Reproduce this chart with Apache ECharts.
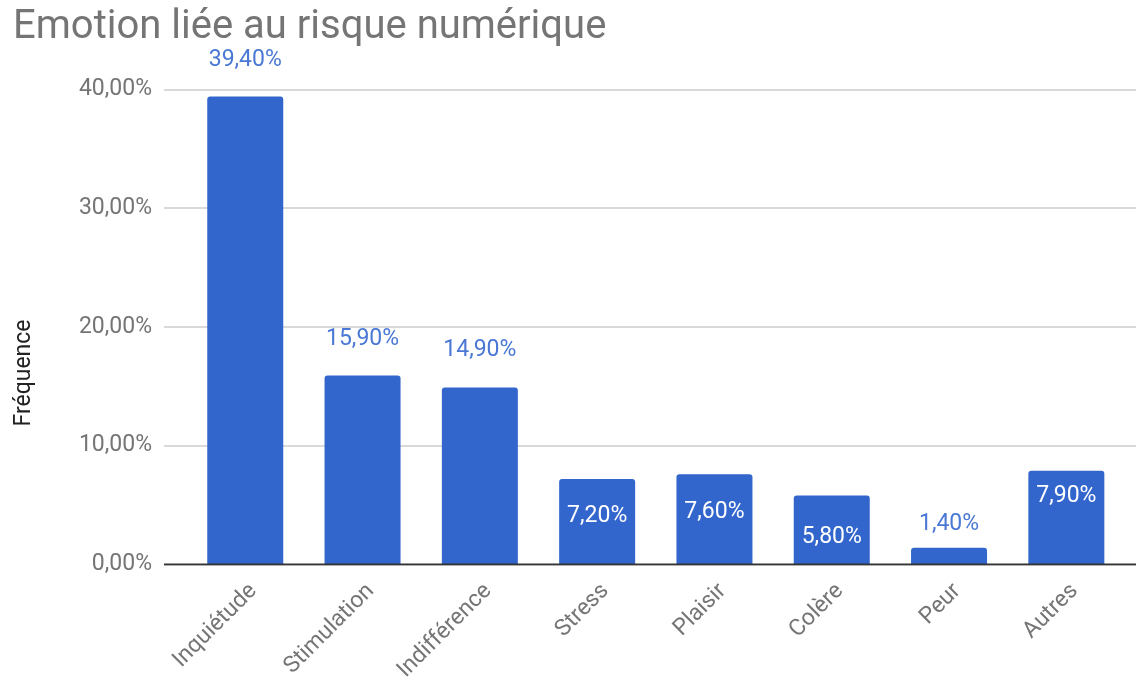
<!DOCTYPE html>
<html><head><meta charset="utf-8">
<script src="https://cdn.jsdelivr.net/npm/echarts@6/dist/echarts.min.js"></script>
<style>html,body{margin:0;padding:0;background:#fff}#c{width:1136px;height:681px}</style>
</head><body><div id="c"></div>
<script>
const categories = ['Inquiétude','Stimulation','Indifférence','Stress','Plaisir','Colère','Peur','Autres'];
const frequence = [39.4, 15.9, 14.9, 7.2, 7.6, 5.8, 1.4, 7.9];
const yTicks = [0, 10, 20, 30, 40];

// label placement style per bar (Google-chart style annotations)
const labelInside = [false, false, false, true, true, true, false, true];
const labelDist = [24.5, 24.5, 25, 25.6, 25.7, 29.4, 11.4, 13.3];

const fmt = v => v.toFixed(2).replace('.', ',') + '%';
const FONT = 'Roboto';

const chart = echarts.init(document.getElementById('c'));
const gTop = 89.3, gBottom = 116.5;
chart.setOption({
  animation: false,
  title: { text: 'Emotion liée au risque numérique', left: 8, top: 3,
    textStyle: { fontFamily: FONT, fontSize: 40, fontWeight: 'normal', color: '#757575' } },
  grid: [
    { left: 164, right: 0, top: gTop, bottom: gBottom, outerBoundsMode: 'none', containLabel: false },
    { left: 186.6, right: 11, top: gTop, bottom: gBottom, outerBoundsMode: 'none', containLabel: false }
  ],
  xAxis: [
    { gridIndex: 0, type: 'value', min: 0, max: 1, show: true,
      axisLine: { show: false }, axisTick: { show: false }, axisLabel: { show: false }, splitLine: { show: false } },
    { gridIndex: 1, type: 'category', data: categories,
      axisLine: { show: false }, axisTick: { show: false },
      axisLabel: { interval: 0, rotate: 45, margin: 15, verticalAlign: 'top',
        fontFamily: FONT, fontSize: 23, color: '#757575' } }
  ],
  yAxis: [
    { gridIndex: 0, type: 'value', min: yTicks[0], max: yTicks[yTicks.length-1], interval: 10,
      axisLine: { show: false }, axisTick: { show: false },
      axisLabel: { margin: 12, fontFamily: FONT, fontSize: 23, color: '#757575', formatter: fmt },
      splitLine: { lineStyle: { color: '#cccccc', width: 1.5 } } },
    { gridIndex: 1, type: 'value', min: yTicks[0], max: yTicks[yTicks.length-1], interval: 10, show: false }
  ],
  graphic: [
    { type: 'text', x: 24, y: 373, rotation: Math.PI/2,
      style: { text: 'Fréquence', fontFamily: FONT, fontSize: 23, fill: '#222', align: 'center', verticalAlign: 'middle' } }
  ],
  series: [
    { type: 'line', xAxisIndex: 0, yAxisIndex: 0, data: [[0,0],[1,0]], symbol: 'none', silent: true,
      lineStyle: { color: '#333', width: 2 }, z: 5 },
    { type: 'bar', xAxisIndex: 1, yAxisIndex: 1, barWidth: 76,
      itemStyle: { color: '#3366cc', borderRadius: [3,3,0,0] },
      data: frequence.map((v, i) => ({
        value: v,
        label: {
          show: true,
          position: labelInside[i] ? 'insideTop' : 'top',
          distance: labelDist[i],
          lineHeight: 24,
          fontFamily: FONT, fontSize: 23,
          color: labelInside[i] ? '#ffffff' : '#4a78d4',
          formatter: p => fmt(p.value)
        }
      }))
    }
  ]
});
</script></body></html>
